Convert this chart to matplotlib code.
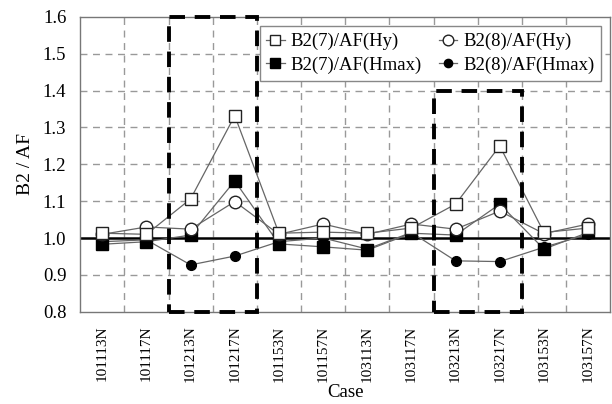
import numpy as np
import matplotlib
matplotlib.use('Agg')
import matplotlib.pyplot as plt
from matplotlib.patches import Rectangle

plt.rcParams['font.family'] = ['Liberation Serif', 'DejaVu Serif']

cases = ['101113N', '101117N', '101213N', '101217N', '101153N', '101157N',
         '103113N', '103117N', '103213N', '103217N', '103153N', '103157N']

b27_hy   = [1.013, 1.010, 1.106, 1.332, 1.013, 1.016, 1.013, 1.027, 1.092, 1.250, 1.015, 1.027]
b27_hmax = [0.983, 0.990, 1.008, 1.155, 0.984, 0.976, 0.967, 1.013, 1.008, 1.092, 0.970, 1.015]
b28_hy   = [1.010, 1.030, 1.024, 1.099, 1.010, 1.038, 1.010, 1.038, 1.024, 1.073, 1.012, 1.038]
b28_hmax = [0.990, 0.995, 0.927, 0.951, 0.990, 1.000, 0.970, 1.015, 0.938, 0.936, 0.975, 1.010]

x = np.arange(len(cases))

fig = plt.figure(figsize=(6.12, 4.04), dpi=100)
ax = fig.add_axes([0.131, 0.2285, 0.866, 0.7295])

lc = '#666666'
ax.plot(x, b27_hy, '-', color=lc, lw=0.9, marker='s', ms=9, mfc='white', mec='#222222', mew=1.0,
        label='B2(7)/AF(Hy)', zorder=5)
ax.plot(x, b27_hmax, '-', color=lc, lw=0.9, marker='s', ms=8, mfc='black', mec='black',
        label='B2(7)/AF(Hmax)', zorder=4)
ax.plot(x, b28_hy, '-', color=lc, lw=0.9, marker='o', ms=9, mfc='white', mec='#222222', mew=1.0,
        label='B2(8)/AF(Hy)', zorder=4.5)
ax.plot(x, b28_hmax, '-', color=lc, lw=0.9, marker='o', ms=7, mfc='black', mec='black',
        label='B2(8)/AF(Hmax)', zorder=3.5)

ax.set_xlim(-0.5, 11.5)
ax.set_ylim(0.8, 1.6)
ax.set_yticks(np.arange(0.8, 1.61, 0.1))
ax.set_yticklabels(['%.1f' % v for v in np.arange(0.8, 1.61, 0.1)], fontsize=13.5)
ax.set_xticks(x)
ax.set_xticklabels(cases, rotation=90, fontsize=11)
ax.tick_params(axis='y', length=0, pad=10)
ax.tick_params(axis='x', length=0, pad=10)

# grid lines
for v in np.arange(0.9, 1.6, 0.1):
    if abs(v - 1.0) < 1e-6:
        continue
    ax.axhline(v, color='#999999', lw=1.0, ls=(0, (5, 4)), zorder=1)
for b in np.arange(0.5, 11, 1.0):
    ax.axvline(b, color='#999999', lw=1.0, ls=(0, (5, 4)), zorder=1)
ax.axhline(1.0, color='black', lw=1.8, zorder=2)

# highlight boxes
for x0, x1, ytop in [(1.5, 3.5, 1.6), (7.5, 9.5, 1.4)]:
    ax.add_patch(Rectangle((x0, 0.8), x1 - x0, ytop - 0.8, fill=False, ec='black',
                           lw=2.8, ls=(0, (4, 2.5)), zorder=6, clip_on=False))

for s in ax.spines.values():
    s.set_color('#777777')
    s.set_linewidth(1.0)

ax.set_ylabel('B2 / AF', fontsize=14, labelpad=6)
ax.set_xlabel('Case', fontsize=13.5, labelpad=1)

leg = ax.legend(ncol=2, loc='upper right', fontsize=13.5, handlelength=1.0, handletextpad=0.3,
                columnspacing=0.9, borderpad=0.35, labelspacing=0.35, fancybox=False,
                framealpha=1.0, edgecolor='#888888', borderaxespad=0.5, markerscale=0.85)
leg.set_zorder(7)

fig.savefig('out.png', dpi=100)
